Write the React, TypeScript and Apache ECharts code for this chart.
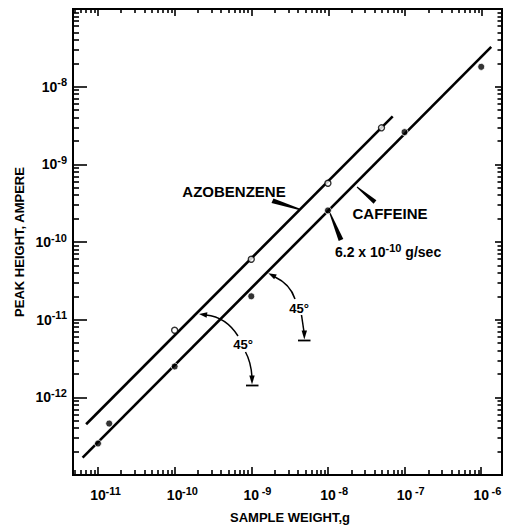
import React, { useEffect, useRef } from "react";
import * as echarts from "echarts";

// ---- data ----
const caffeineWeight = [1e-11, 1.4e-11, 1e-10, 1e-9, 1e-8, 1e-7, 1e-6];
const caffeinePeak = [2.55e-13, 4.6e-13, 2.5e-12, 2.0e-11, 2.55e-10, 2.6e-9, 1.8e-8];
const azoWeight = [1e-10, 1e-9, 1e-8, 5e-8];
const azoPeak = [7.3e-12, 6.0e-11, 5.7e-10, 2.95e-9];
const azoFitWeight = [7e-12, 7e-8];
const azoFitPeak = [4.5e-13, 4.15e-9];
const caffeineFitWeight = [6.3e-12, 1.35e-6];
const caffeineFitPeak = [1.67e-13, 3.25e-8];

const xDecades = [-12, -11, -10, -9, -8, -7, -6];
const xLabelDecades = [-11, -10, -9, -8, -7, -6];
const yDecades = [-13, -12, -11, -10, -9, -8, -7];
const yLabelDecades = [-12, -11, -10, -9, -8];
const minorMultipliers = [2, 3, 4, 5, 6, 7, 8, 9];

const X_TITLE = "SAMPLE WEIGHT,g";
const Y_TITLE = "PEAK HEIGHT, AMPERE";

const X_MIN = 4.72e-12;
const X_MAX = 1.82e-6;
const Y_MIN = 1e-13;
const Y_MAX = 1e-7;

const FONT = '"Liberation Sans", Arial, sans-serif';

const pow10 = (e: number) => Number("1e" + e);
const majorValues = (decs: number[]) => decs.map(pow10);
const minorValues = (decs: number[]) => {
  const out: number[] = [];
  decs.forEach((d) => minorMultipliers.forEach((m) => out.push(Number(m + "e" + d))));
  return out;
};
const expOf = (v: number) => Math.round(Math.log10(v));

function makeAxis(
  kind: "x" | "y",
  gridIndex: number,
  position: string,
  values: number[],
  tickLen: number,
  label: any
) {
  return {
    type: "log",
    logBase: 10,
    gridIndex,
    min: kind === "x" ? X_MIN : Y_MIN,
    max: kind === "x" ? X_MAX : Y_MAX,
    position,
    axisLine: { show: true, lineStyle: { color: "#000", width: 2 } },
    axisTick: {
      show: true,
      inside: true,
      length: tickLen,
      customValues: values,
      lineStyle: { color: "#000", width: 1.6 },
    },
    axisLabel: label || { show: false },
    splitLine: { show: false },
  };
}

export default function App() {
  const ref = useRef<HTMLDivElement>(null);
  useEffect(() => {
    if (!ref.current) return;
    const chart = echarts.init(ref.current, undefined, { renderer: "svg" });

    const xLabel = {
      show: true,
      customValues: majorValues(xLabelDecades),
      margin: 10,
      formatter: (v: number) => `{p| }{b|10}{s|${expOf(v)}}`,
      rich: {
        p: { width: 15 },
        b: { fontFamily: FONT, fontSize: 14, fontWeight: "bold", color: "#000", lineHeight: 20 },
        s: { fontFamily: FONT, fontSize: 11, fontWeight: "bold", color: "#000", lineHeight: 9, verticalAlign: "top", width: 15 },
      },
    };
    const yLabel = {
      show: true,
      customValues: majorValues(yLabelDecades),
      margin: 6,
      formatter: (v: number) => `{b|10}{s|${expOf(v)}}`,
      rich: {
        b: { fontFamily: FONT, fontSize: 14, fontWeight: "bold", color: "#000", lineHeight: 20 },
        s: { fontFamily: FONT, fontSize: 11, fontWeight: "bold", color: "#000", lineHeight: 9, verticalAlign: "top" },
      },
    };

    const black = "#000";
    const thin = { stroke: black, lineWidth: 1.5, fill: "none" };

    const graphic: any[] = [
      {
        type: "text", x: 290, y: 517,
        style: { text: X_TITLE, font: `bold 13px ${FONT}`, fill: black, align: "center", verticalAlign: "middle" },
      },
      {
        type: "text", x: 19, y: 242, rotation: Math.PI / 2,
        style: { text: Y_TITLE, font: `bold 13px ${FONT}`, fill: black, align: "center", verticalAlign: "middle" },
      },
      {
        type: "text", x: 234, y: 191,
        style: { text: "AZOBENZENE", font: `bold 15px ${FONT}`, fill: black, align: "center", verticalAlign: "middle" },
      },
      {
        type: "text", x: 390, y: 213,
        style: { text: "CAFFEINE", font: `bold 15px ${FONT}`, fill: black, align: "center", verticalAlign: "middle" },
      },
      {
        type: "text", x: 335, y: 252,
        style: {
          text: "{a|6.2 x 10}{s|-10}{a| g/sec}",
          align: "left",
          verticalAlign: "middle",
          rich: {
            a: { font: `bold 14px ${FONT}`, fill: black, lineHeight: 20 },
            s: { font: `bold 11px ${FONT}`, fill: black, lineHeight: 9, verticalAlign: "top" },
          },
        },
      },
      {
        type: "text", x: 243, y: 344,
        style: { text: "45°", font: `bold 13px ${FONT}`, fill: black, align: "center", verticalAlign: "middle" },
      },
      {
        type: "text", x: 299, y: 308,
        style: { text: "45°", font: `bold 13px ${FONT}`, fill: black, align: "center", verticalAlign: "middle" },
      },
      // leaders
      { type: "polygon", shape: { points: [[271.5, 203], [273.5, 198.5], [299.5, 208.5], [299, 210]] }, style: { fill: black } },
      { type: "polygon", shape: { points: [[356.7, 187.4], [357.3, 186.6], [376.4, 200.3], [373.6, 203.7]] }, style: { fill: black } },
      { type: "polygon", shape: { points: [[329, 212.2], [330, 211.8], [343.3, 239], [338.7, 241]] }, style: { fill: black } },
      // 45 deg arc 1
      { type: "bezierCurve", shape: { x1: 206, y1: 315, cpx1: 226, cpy1: 317, x2: 238, y2: 336 }, style: thin },
      { type: "bezierCurve", shape: { x1: 245.5, y1: 352, cpx1: 251, cpy1: 362, x2: 252, y2: 377 }, style: thin },
      { type: "polygon", shape: { points: [[199, 314], [207.4, 312.3], [206.6, 317.7]] }, style: { fill: black } },
      { type: "polygon", shape: { points: [[252, 384.5], [249.3, 375.5], [254.7, 375.5]] }, style: { fill: black } },
      { type: "line", shape: { x1: 246, y1: 385.5, x2: 258.5, y2: 385.5 }, style: { stroke: black, lineWidth: 1.8 } },
      // 45 deg arc 2
      { type: "bezierCurve", shape: { x1: 275, y1: 277, cpx1: 290, cpy1: 284, x2: 295, y2: 299 }, style: thin },
      { type: "line", shape: { x1: 301.5, y1: 315, x2: 304, y2: 332 }, style: thin },
      { type: "polygon", shape: { points: [[268.3, 273.3], [276.8, 274.5], [274.2, 279.3]] }, style: { fill: black } },
      { type: "polygon", shape: { points: [[304.3, 339.5], [301.6, 330.5], [307, 330.5]] }, style: { fill: black } },
      { type: "line", shape: { x1: 298, y1: 340.5, x2: 310.5, y2: 340.5 }, style: { stroke: black, lineWidth: 1.8 } },
    ];

    const zip = (a: number[], b: number[]) => a.map((v, i) => [v, b[i]]);
    const gridBox = { left: 73, top: 9, right: 5, bottom: 51 };

    chart.setOption({
      animation: false,
      backgroundColor: "#fff",
      grid: [gridBox, gridBox, gridBox, gridBox],
      xAxis: [
        makeAxis("x", 0, "bottom", majorValues(xDecades), 8, xLabel),
        makeAxis("x", 1, "bottom", minorValues(xDecades), 5, null),
        makeAxis("x", 2, "top", majorValues(xDecades), 7, null),
        makeAxis("x", 3, "top", minorValues(xDecades), 4, null),
      ],
      yAxis: [
        makeAxis("y", 0, "left", majorValues(yDecades), 14, yLabel),
        makeAxis("y", 1, "left", minorValues(yDecades), 6, null),
        makeAxis("y", 2, "right", majorValues(yDecades), 7, null),
        makeAxis("y", 3, "right", minorValues(yDecades), 4.5, null),
      ],
      series: [
        {
          name: "Azobenzene fit",
          type: "line",
          data: zip(azoFitWeight, azoFitPeak),
          showSymbol: false,
          lineStyle: { color: black, width: 2.6 },
          z: 2,
        },
        {
          name: "Caffeine fit",
          type: "line",
          data: zip(caffeineFitWeight, caffeineFitPeak),
          showSymbol: false,
          lineStyle: { color: black, width: 2.6 },
          z: 2,
        },
        {
          name: "Azobenzene",
          type: "scatter",
          data: zip(azoWeight, azoPeak),
          symbol: "circle",
          symbolSize: 6,
          itemStyle: { color: "#fff", borderColor: black, borderWidth: 1.4 },
          z: 3,
        },
        {
          name: "Caffeine",
          type: "scatter",
          data: zip(caffeineWeight, caffeinePeak),
          symbol: "circle",
          symbolSize: 7,
          itemStyle: { color: black, borderColor: "#fff", borderWidth: 1 },
          z: 3,
        },
      ],
      graphic,
    });
    return () => chart.dispose();
  }, []);

  return (
    <div
      ref={ref}
      style={{ position: "fixed", left: 0, top: 0, width: 507, height: 526, background: "#fff" }}
    />
  );
}
